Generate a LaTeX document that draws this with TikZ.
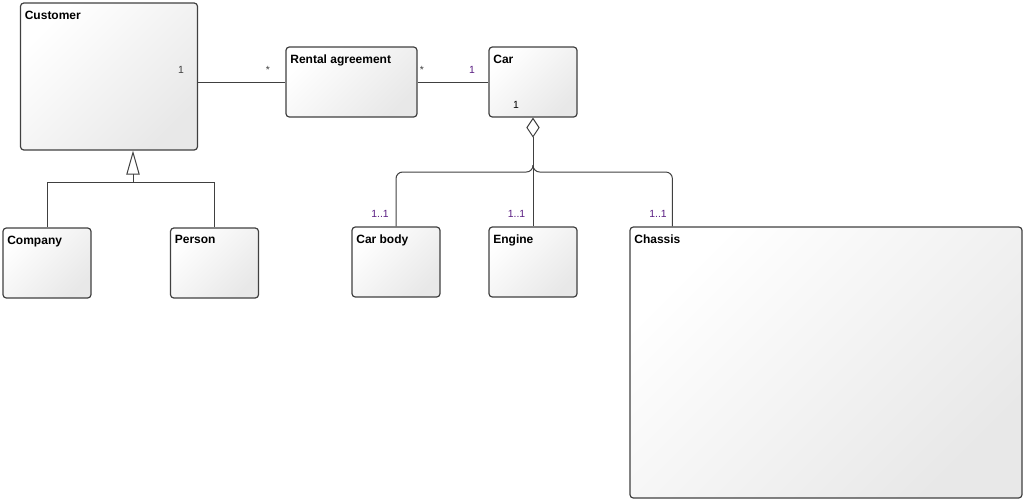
\documentclass[tikz,border=0pt]{standalone}
\usepackage{fontspec}
\setmainfont{Liberation Sans}
\usetikzlibrary{arrows.meta, positioning, calc}
\definecolor{umlline}{HTML}{404040}
\definecolor{umlmult}{HTML}{5A1E82}

\begin{document}
\begin{tikzpicture}[
    x=0.75pt, y=-0.75pt,
    font=\fontsize{9}{11}\selectfont\bfseries,
    cls/.style     ={draw=umlline, line width=0.9pt, rounded corners=2.5pt,
                     top color=white, bottom color=black!9, shading angle=45,
                     inner sep=0pt},
    clsbox/.style  ={cls, minimum width=66pt, minimum height=52.5pt},
    title/.style   ={anchor=north west, inner sep=0pt, xshift=3.5pt, yshift=-6pt},
    assoc/.style   ={draw=umlline, line width=0.75pt},
    gen/.style     ={assoc, -{Triangle[open, length=18pt, width=10pt]}},
    agg/.style     ={assoc, {Diamond[open, length=15pt, width=10pt]}-},
    mult/.style    ={font=\fontsize{7.8}{9}\selectfont, inner sep=0pt,
                     anchor=base, text=umlline},
    multp/.style   ={mult, text=umlmult}
]
\useasboundingbox (0,0) rectangle (1024,501);

% Top row: Customer -> Rental agreement -> Car
\node[cls, minimum width=132.75pt, minimum height=110.25pt,
      label={[title]north west:Customer}] (cust) at (109,76.5) {};
\node[cls, minimum width=98.25pt, minimum height=52.5pt,
      label={[title]north west:Rental agreement}] (rent) at (351.5,82) {};
\node[clsbox, label={[title]north west:Car}] (car) at (533,82) {};

% Subclasses of Customer
\node[clsbox, label={[title]north west:Company}] (comp) at (47,263) {};
\node[clsbox, label={[title]north west:Person}]  (pers) at (214.5,263) {};

% Parts of Car
\node[clsbox, label={[title]north west:Car body}] (body) at (396,262) {};
\node[clsbox, label={[title]north west:Engine}]   (eng)  at (533,262) {};
\node[cls, minimum width=294pt, minimum height=203.25pt,
      label={[title]north west:Chassis}] (chs) at (826,362.5) {};

% --- Associations ---
\draw[assoc] (cust.east |- rent.west) -- (rent.west);
\draw[assoc] (rent.east) -- (car.west);

\node[mult]  (mCust) at (181,73) {1};
\node[mult]  (mRentL) at (268,73) {*};
\node[mult]  (mRentR) at (422,73) {*};
\node[multp] (mCarL) at (472,73) {1};

% --- Generalization ---
\coordinate (genTip) at ([xshift=18pt]cust.south);
\coordinate (genBar) at (133,182);
\draw[assoc] (comp.north) |- (genBar);
\draw[assoc] (pers.north) |- (genBar);
\draw[gen] (genBar) -- (genTip);

% --- Aggregation ---
\draw[agg] (car.south) -- (eng.north);
\coordinate (aggJoin) at (533,165);
\coordinate (aggBar)  at (533,172);
\coordinate (chsTop)  at ([xshift=32.25pt]chs.north west);
\draw[assoc, rounded corners=5pt] (body.north) |- (aggBar) -- (aggJoin);
\draw[assoc, rounded corners=5pt] (chsTop) |- (aggBar) -- (aggJoin);

\node[mult, text=black] (mCarB) at (516,108) {1};
\node[multp] (mBody) at (380,217) {1..1};
\node[multp] (mEng)  at (516.5,217) {1..1};
\node[multp] (mChs)  at (658,217) {1..1};

\end{tikzpicture}
\end{document}
